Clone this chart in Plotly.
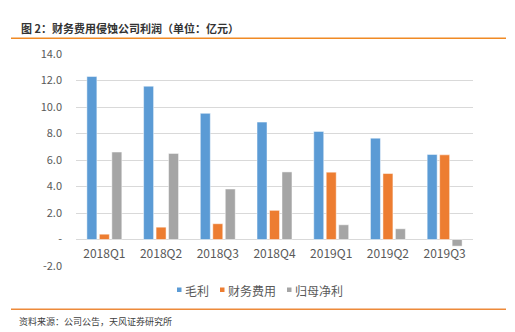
import plotly.graph_objects as go

categories = ["2018Q1", "2018Q2", "2018Q3", "2018Q4", "2019Q1", "2019Q2", "2019Q3"]
gross_profit = [12.3, 11.57, 9.52, 8.86, 8.16, 7.65, 6.42]
finance_cost = [0.40, 0.93, 1.19, 2.20, 5.08, 4.98, 6.39]
net_profit = [6.60, 6.50, 3.81, 5.10, 1.11, 0.81, -0.50]
series_names = ["毛利", "财务费用", "归母净利"]
tick_vals = [-2, 0, 2, 4, 6, 8, 10, 12, 14]
tick_text = ["-2.0", "-", "2.0", "4.0", "6.0", "8.0", "10.0", "12.0", "14.0"]

colors = ["#5B9BD5", "#ED7D31", "#A5A5A5"]
FONT = "Noto Sans CJK SC, Noto Sans, sans-serif"

W, H = 515, 332
L, R, T, B = 76, 42, 54, 66
pw, ph = W - L - R, H - T - B

def px(x):
    return (x - L) / pw

def py(y):
    return (H - B - y) / ph

fig = go.Figure()
for name, vals, c in zip(series_names, [gross_profit, finance_cost, net_profit], colors):
    fig.add_trace(go.Bar(x=categories, y=vals, name=name, showlegend=False,
                         marker=dict(color=c, line=dict(color="rgba(255,255,255,0.6)", width=0.8))))

fig.update_layout(
    width=W, height=H,
    margin=dict(l=L, r=R, t=T, b=B, autoexpand=False),
    paper_bgcolor="white", plot_bgcolor="white",
    barmode="group", bargap=0.34, bargroupgap=0.2,
    font=dict(family=FONT, color="#595959", size=11),
    xaxis=dict(anchor="free", position=2 / 16, showline=False, ticks="",
               tickfont=dict(size=12, color="#595959", family=FONT), showgrid=False,
               automargin=False, ticklabelstandoff=5),
    yaxis=dict(range=[-2, 14], tickvals=tick_vals, ticktext=tick_text,
               showgrid=True, gridcolor="#D9D9D9", gridwidth=1,
               zeroline=True, zerolinecolor="#D9D9D9", zerolinewidth=1, automargin=False,
               tickfont=dict(size=11, color="#595959", family=FONT), ticks="",
               ticklabelstandoff=13),
    showlegend=False,
)

# manual legend (small squares + labels)
legend_x = [177, 220, 287]
for name, c, lx in zip(series_names, colors, legend_x):
    fig.add_shape(type="rect", xref="paper", yref="paper",
                  x0=px(lx), x1=px(lx + 4.5), y0=py(292), y1=py(287.5),
                  fillcolor=c, line=dict(width=0))
    fig.add_annotation(text=name, xref="paper", yref="paper",
                       x=px(lx + 5.5), y=py(290), xanchor="left", yanchor="middle",
                       showarrow=False, font=dict(size=12, color="#595959", family=FONT))

fig.add_annotation(text="<b>图 2：财务费用侵蚀公司利润（单位：亿元）</b>", xref="paper", yref="paper",
                   x=px(19), y=py(28), xanchor="left", yanchor="middle", showarrow=False,
                   font=dict(size=11, color="#333333", family=FONT))
fig.add_annotation(text="资料来源：公司公告，天风证券研究所", xref="paper", yref="paper",
                   x=px(17), y=py(321), xanchor="left", yanchor="middle", showarrow=False,
                   font=dict(size=9, color="#404040", family=FONT))
for yy in [38.3, 309.3]:
    fig.add_shape(type="line", xref="paper", yref="paper",
                  x0=px(11), x1=px(506), y0=py(yy), y1=py(yy),
                  line=dict(color="#F08A24" if yy < 100 else "#ED8A3A", width=1.5))

fig.write_html("out.html")
